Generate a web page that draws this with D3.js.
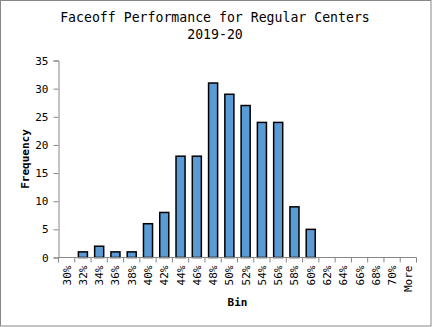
<!DOCTYPE html>
<html>
<head>
<meta charset="utf-8">
<script src="https://cdn.jsdelivr.net/npm/d3@7"></script>
<style>
  html, body { margin: 0; padding: 0; background: #fff; }
  svg { display: block; }
  text { font-family: "DejaVu Sans Mono", "Liberation Mono", monospace; fill: #000; }
</style>
</head>
<body>
<svg id="chart" width="432" height="327"></svg>
<script>
// Histogram bins and the count of centers falling in each
const bins = ["30%", "32%", "34%", "36%", "38%", "40%", "42%", "44%", "46%", "48%", "50%",
              "52%", "54%", "56%", "58%", "60%", "62%", "64%", "66%", "68%", "70%", "More"];
const frequency = [0, 1, 2, 1, 1, 6, 8, 18, 18, 31, 29, 27, 24, 24, 9, 5, 0, 0, 0, 0, 0, 0];
const yTicks = [0, 5, 10, 15, 20, 25, 30, 35];
const titleLines = ["Faceoff Performance for Regular Centers", "2019-20"];

const svg = d3.select("#chart");
const W = 432, H = 327;
const plot = { left: 58.5, right: 416.5, top: 60.5, bottom: 257.5 };
const mono = "DejaVu Sans Mono, Liberation Mono, monospace";

// Chart frame
svg.append("rect")
  .attr("x", 0.5).attr("y", 0.5)
  .attr("width", W - 1.5).attr("height", H - 1.5)
  .attr("fill", "#fff").attr("stroke", "#888").attr("stroke-width", 1);

const x = d3.scaleBand()
  .domain(bins)
  .range([plot.left, plot.right])
  .paddingInner(0.444)
  .paddingOuter(0.222);

const y = d3.scaleLinear()
  .domain([0, 35])
  .range([plot.bottom, plot.top]);

// Bars
svg.append("g")
  .selectAll("rect")
  .data(bins.map((b, i) => ({ bin: b, value: frequency[i] })).filter(d => d.value > 0))
  .join("rect")
  .attr("x", d => x(d.bin))
  .attr("y", d => y(d.value))
  .attr("width", x.bandwidth())
  .attr("height", d => y(0) - y(d.value))
  .attr("fill", "#5B9BD5")
  .attr("stroke", "#000")
  .attr("stroke-width", 1.5);

// Y axis
const yAxis = svg.append("g")
  .attr("transform", `translate(${plot.left},0)`)
  .call(d3.axisLeft(y).tickValues(yTicks).tickSize(5).tickPadding(5));
yAxis.select(".domain").attr("stroke", "#868686");
yAxis.selectAll(".tick line").attr("stroke", "#868686");
yAxis.selectAll(".tick text")
  .attr("font-size", 11)
  .attr("font-family", mono);

// X axis: ticks fall on the band boundaries
const xAxis = svg.append("g")
  .attr("transform", `translate(0,${plot.bottom})`);
xAxis.append("line")
  .attr("x1", plot.left).attr("x2", plot.right)
  .attr("y1", 0).attr("y2", 0)
  .attr("stroke", "#868686");
const step = x.step();
const boundaries = d3.range(bins.length + 1).map(i => plot.left + i * step);
xAxis.selectAll("line.tk")
  .data(boundaries)
  .join("line")
  .attr("class", "tk")
  .attr("x1", d => d).attr("x2", d => d)
  .attr("y1", 0).attr("y2", 5)
  .attr("stroke", "#868686");
xAxis.selectAll("text.lbl")
  .data(bins)
  .join("text")
  .attr("class", "lbl")
  .attr("transform", d => `translate(${x(d) + x.bandwidth() / 2 + 4},8) rotate(-90)`)
  .attr("text-anchor", "end")
  .attr("font-size", 11)
  .text(d => d);

// Title
svg.append("g")
  .selectAll("text")
  .data(titleLines)
  .join("text")
  .attr("x", 215)
  .attr("y", (d, i) => 22 + i * 17)
  .attr("text-anchor", "middle")
  .attr("font-size", 13.2)
  .text(d => d);

// Axis titles
svg.append("text")
  .attr("transform", `translate(29,${(plot.top + plot.bottom) / 2}) rotate(-90)`)
  .attr("text-anchor", "middle")
  .attr("font-size", 11)
  .attr("font-weight", "bold")
  .text("Frequency");

svg.append("text")
  .attr("x", (plot.left + plot.right) / 2)
  .attr("y", 306)
  .attr("text-anchor", "middle")
  .attr("font-size", 11)
  .attr("font-weight", "bold")
  .text("Bin");
</script>
</body>
</html>
